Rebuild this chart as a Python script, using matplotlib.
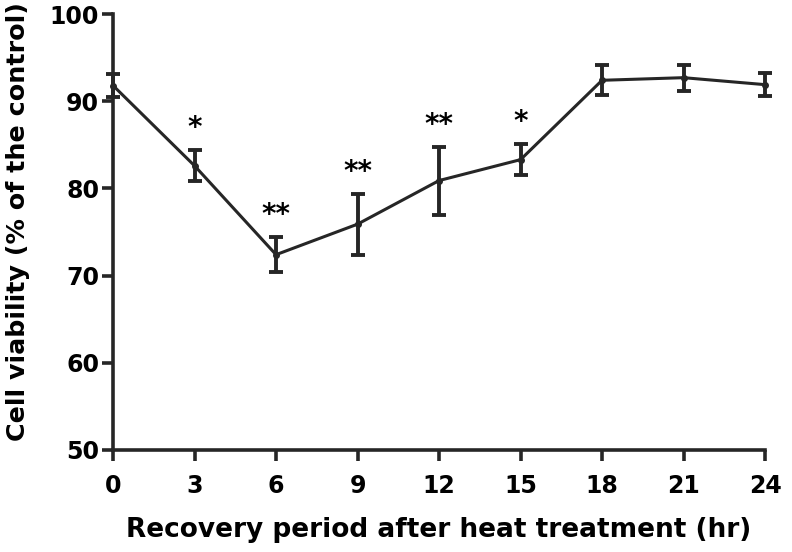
import matplotlib
matplotlib.use("Agg")
import matplotlib.pyplot as plt

# recovery time (hr) and cell viability (% of control)
hours = [0, 3, 6, 9, 12, 15, 18, 21, 24]
viability = [91.8, 82.6, 72.4, 75.9, 80.9, 83.3, 92.4, 92.7, 91.9]
err = [1.3, 1.8, 2.0, 3.5, 3.9, 1.8, 1.7, 1.5, 1.3]
stars = ['', '*', '**', '**', '**', '*', '', '', '']

ink = '#262626'
plt.rcParams['font.family'] = 'DejaVu Sans'
plt.rcParams['font.weight'] = 'bold'

fig = plt.figure(figsize=(7.92, 5.52), dpi=100)
ax = fig.add_axes([0.1427, 0.1848, 0.8233, 0.7898])

ax.errorbar(hours, viability, yerr=err, color=ink, lw=2.2, elinewidth=2.8,
            capsize=5, capthick=2.8, marker='o', ms=4, clip_on=False)

for h, v, e, s in zip(hours, viability, err, stars):
    if s:
        ax.text(h, v + e + 0.9, s, ha='center', va='bottom', fontsize=20,
                fontweight='bold', color='black')

ax.set_xlim(0, 24)
ax.set_ylim(50, 100)
ax.set_xticks(hours)
ax.set_yticks([50, 60, 70, 80, 90, 100])
for side in ['top', 'right']:
    ax.spines[side].set_visible(False)
for side in ['left', 'bottom']:
    ax.spines[side].set_linewidth(2.6)
    ax.spines[side].set_color(ink)
ax.tick_params(width=2.6, length=8, color=ink, labelsize=17)
ax.tick_params(axis='x', pad=9)
ax.tick_params(axis='y', pad=2)
ax.set_xlabel('Recovery period after heat treatment (hr)', fontsize=19,
              fontweight='bold', labelpad=14)
ax.set_ylabel('Cell viability (% of the control)', fontsize=18.3,
              fontweight='bold')
ax.yaxis.set_label_coords(-0.128, 0.523)

fig.savefig('out.png', dpi=100)
